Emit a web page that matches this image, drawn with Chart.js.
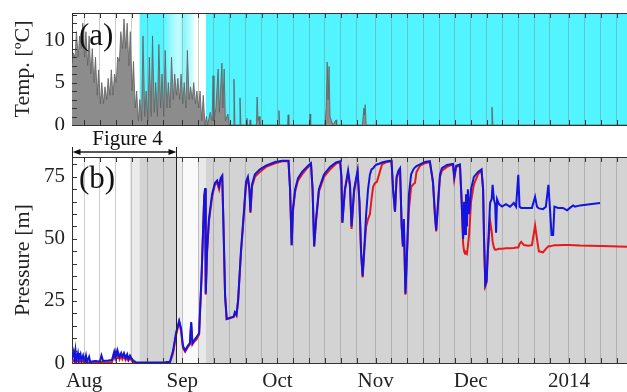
<!DOCTYPE html>
<html>
<head>
<meta charset="utf-8">
<script src="https://cdn.jsdelivr.net/npm/chart.js@4.4.1/dist/chart.umd.min.js"></script>
<style>
  html, body { margin: 0; padding: 0; background: #fff; overflow: hidden; }
  #wrap { position: relative; width: 627px; height: 392px; }
  canvas { position: absolute; left: 0; }
  #tempChart { top: 0; }
  #pressChart { top: 120px; }
</style>
</head>
<body>
<div id="wrap">
  <canvas id="tempChart" width="627" height="130"></canvas>
  <canvas id="pressChart" width="627" height="272"></canvas>
</div>
<script>
// days counted from 1 Aug 2013

const xMin = -3.8
const xMax = 171.3

const monthStarts = [0, 31, 61, 92, 122, 153]
const monthLabels = ['Aug', 'Sep', 'Oct', 'Nov', 'Dec', '2014']
const gridOffsets = [0, 5, 10, 15, 20, 25]

// (a) temperature
const tempDays = [
  -3.85, -3.4, -2.85, -2.4, -1.85, -1.4, -0.85, -0.4, 0.15, 0.6, 1.15, 1.6, 2.15, 2.6, 3.15, 3.6,
  4.15, 4.6, 5.15, 5.6, 6.15, 6.6, 7.15, 7.6, 8.15, 8.6, 9.15, 9.6, 10.15, 10.6, 11.15, 11.6,
  12.15, 12.6, 13.15, 13.6, 14.15, 14.6, 15.15, 15.6, 16.15, 16.6, 17.15, 17.6,
  18.15, 18.6, 19.15, 19.6, 20.15, 20.6, 21.15, 21.6, 22.15, 22.6, 23.15, 23.6, 24.15, 24.6,
  25.15, 25.6, 26.15, 26.6, 27.15, 27.6, 28.15, 28.6, 29.15, 29.6, 30.15, 30.6, 31.15, 31.6,
  32.15, 32.6, 33.15, 33.6, 34.15, 34.6, 35.15, 35.6, 36.15, 36.6, 37.15, 37.6, 38.15, 38.6,
  39.0, 39.8, 40.4, 40.7, 41.0, 41.6, 42.3, 42.7, 43.5, 43.8, 44.2, 44.6, 45.4, 45.8,
  47.0, 47.3, 47.6, 49.0, 49.2, 49.5, 51.2, 51.4, 51.6, 52.2, 52.4, 52.6,
  54.4, 54.6, 54.9, 55.2, 55.5, 61.3, 61.5, 61.7, 64.2, 64.4, 64.6, 71.1, 71.3, 71.5,
  76.0, 76.4, 76.7, 77.0, 77.3, 77.6, 78.5, 79.5, 79.7,
  87.8, 88.3, 88.5, 88.7, 89.0, 128.4, 128.7, 129.0, 171.5
]
const tempVals = [
  7, 8.5, 8, 11, 8, 10.5, 9, 12, 8, 11, 7, 10.5, 6, 9, 5, 8,
  3.5, 6.5, 2.5, 5, 2.5, 4.5, 3, 5.5, 3.5, 6.5, 3.5, 6, 5, 8, 7.5, 11,
  9, 12.5, 9, 12, 7, 11, 4, 7.5, 2, 4, 0.5, 3,
  0.5, 10.5, 1, 4, 0.5, 8, 1, 10.5, 1.5, 5, 1, 9.5, 2, 6,
  1, 8.8, 2, 5, 2, 8, 3, 6, 3.5, 5.5, 3, 6, 2.5, 5,
  2, 8.8, 3, 4.5, 3, 5, 2.5, 4, 2, 4, 0.5, 3.5, 0, 1,
  0, 1.5, 0.5, 5.8, 0.5, 2, 6.6, 1.5, 7.3, 2, 6.6, 0.5, 1.3, 0,
  0, 5.4, 0, 0, 3.2, 0, 0, 0.8, 0, 0, 0.6, 0,
  0, 3.3, 0.5, 1, 0, 0, 1.7, 0, 0, 1.2, 0, 0, 1.3, 0,
  0, 2, 7.4, 3, 6.9, 1, 0, 0.6, 0,
  0, 2.0, 1.2, 2.4, 0, 0, 2.1, 0, 0
]

// (b) pressure, blue and red sensors
const pDays = [
  -3.8, -3.3, -3.0, -2.7, -2.4, -1.9, -1.6, -1.1, -0.8, -0.3, 0.15, 0.6, 0.9, 1.6, 1.9, 3.5,
  5.0, 5.5, 6.0, 7.6, 8.8, 9.5, 9.8, 10.1, 10.4, 10.7, 11.2, 11.7, 12.1, 12.6, 13.1, 13.6,
  14.0, 14.5, 15.1, 15.8, 16.4, 20.8, 25.6, 27.1, 28.1, 29.0, 30.0, 30.6, 31.2, 31.9,
  32.8, 33.4, 33.8, 34.2, 34.7, 35.5, 36.3, 37.1, 37.9, 38.2, 38.4, 38.8, 39.4, 40.4,
  41.3, 42.0, 42.6, 43.1, 43.6, 44.0, 44.5, 45.0, 46.1, 47.2, 47.6, 48.1, 48.6, 49.5,
  50.5, 51.1, 51.7, 52.2, 52.5, 53.0, 53.9, 55.5, 57.4, 60.3, 62.5, 64.5, 65.0, 65.5,
  65.9, 66.6, 67.5, 68.8, 70.7, 71.6, 72.1, 72.6, 73.2, 74.1, 75.7, 77.6, 79.5, 80.8,
  81.2, 81.5, 82.3, 83.3, 83.9, 84.4, 85.2, 86.3, 86.9, 87.4, 87.9, 88.5, 89.0, 89.6,
  90.2, 90.7, 91.2, 91.8, 92.4, 93.1, 94.0, 95.6, 97.0, 97.5, 98.1, 98.6, 99.2, 99.7,
  100.2, 100.6, 100.9, 101.4, 101.9, 102.5, 103.2, 103.9, 104.4, 104.9, 106.0, 107.6, 109.1, 109.6,
  110.1, 110.7, 111.1, 111.7, 112.3, 112.9, 114.5, 116.4, 116.8, 117.4, 118.6, 119.1, 119.6, 119.9,
  120.2, 120.5, 120.8, 121.1, 121.5, 122.1, 123.0, 124.3, 125.4, 125.9, 126.2, 126.6, 127.0, 127.4,
  128.1, 128.6, 128.9, 129.3, 129.7, 130.0, 130.3, 130.9, 131.9, 133.1, 134.4, 135.6, 136.3, 137.0,
  137.4, 137.9, 138.8, 140.1, 141.3, 142.3, 142.9, 143.5, 144.8, 145.7, 146.5, 147.0, 147.5, 148.0,
  148.4, 149.6, 151.1, 152.4, 153.3, 154.3, 154.9, 156.5, 159.6, 162.8, 166.0, 171.3
]
const pBlue = [
  2, 4.5, 1.5, 5, 1, 4, 1.5, 3.5, 1, 3, 0.5, 3, 0.5, 2.5, 0.5, 0.8,
  0.6, 3, 0.8, 1, 1.2, 4.5, 2.5, 4.5, 3, 4.5, 2.5, 4, 2.5, 4, 2, 3.5,
  1.5, 3, 1.5, 0.8, 0.3, 0.2, 0.3, 0.5, 5, 12, 17, 14, 7, 5,
  7, 8, 16.5, 8, 9, 10.5, 12, 36, 67, 70.5, 28, 45, 58, 68,
  72.5, 73.5, 71, 74.5, 75.5, 55, 27, 17.7, 18.3, 18.7, 20.5, 19.5, 25, 45,
  62, 73, 75, 70, 61, 72, 76, 78, 79.5, 81, 81.5, 81.5, 70, 47.5,
  62, 70, 74.5, 77, 79.5, 80.5, 70, 47, 58, 70, 76, 79, 80.8, 81.3,
  75, 56.5, 70, 77.5, 72, 55, 70, 77.5, 65, 45, 35, 48, 60, 70,
  76, 78, 78.5, 79.5, 80, 80.3, 80.8, 81.3, 81.5, 70, 61, 75, 77.5, 78.5,
  55.5, 47, 58, 28, 45, 68, 76, 78, 78.8, 79.3, 80, 81, 81.3, 77,
  73, 60, 53.5, 65, 76, 78.5, 79.8, 80.2, 75, 79.5, 80, 66, 50, 65,
  52, 68, 55, 70, 60, 70, 75, 77, 78, 70, 50, 31.5, 33, 45,
  64.5, 66, 71.8, 66, 64, 52.5, 66, 64, 63, 64, 63, 64.5, 63, 75.8,
  63, 62.5, 62.5, 62.5, 62.5, 67, 63, 62.3, 62, 63, 71.8, 62, 51.6, 51.6,
  63, 62.5, 62.5, 61.5, 62.5, 63.5, 63, 63.5, 64, 64.5, null, null
]
const pRed = [
  0.5, 1, 0.5, 1, 0.3, 1, 0.3, 1, 0.3, 0.8, 0.2, 0.5, 0.2, 0.3, 0.2, 0.2,
  0.1, 0.5, 0.2, 0.3, 0.4, 3, 2, 3.5, 2, 3.5, 1.5, 3, 1.5, 3, 1.2, 2.5,
  1, 2, 0.8, 0.3, 0, 0, 0, 0.2, 4, 11, 16.5, 13, 6, 4.5,
  6.5, 7.5, 16, 7.5, 8.5, 9.5, 11.5, 35, 66, 70, 27.5, 44, 57, 67,
  72, 72.5, 70, 74, 75, 55, 27, 17.7, 18, 18.5, 20, 19, 25, 44,
  61, 72, 74, 69, 60.5, 71, 75, 77, 79, 80.5, 81.3, 81.3, 70, 47.5,
  61, 69, 73.5, 76, 79, 80, 70, 47, 57, 69, 75, 78, 80.3, 81,
  75, 56.5, 69.5, 76.5, 71, 54, 69, 77, 64, 44, 34.5, 47, 55, 58,
  60, 66, 71, 72.5, 73, 76, 80, 81, 81.3, 70, 61, 74, 77, 78,
  55, 47, 56, 27.5, 44, 62, 71, 72, 72.5, 77, 79.5, 80.5, 81, 77,
  72.5, 59.5, 53, 64, 75, 77.5, 79, 80, 74, 79, 79.5, 66, 48, 45,
  44, 44.5, 44, 47, 52, 65, 72, 76, 77.5, 70, 50, 31, 32.5, 45,
  57.5, 53, 49, 46.5, 45.6, 45.6, 45.8, 46, 46, 46.2, 46.2, 46.3, 46.5, 46.5,
  48, 48.8, 47.5, 47.2, 47.5, 55.4, 50, 45, 44.6, 46, 47, 47, 47.2, 47.3,
  47.4, 47.4, 47.5, 47.5, 47.5, 47.4, 47.4, 47.3, 47.2, 47.1, 47, 46.8
]

// shading: days and strength
const coldDays = [-3.8, 17.3, 17.8, 25, 28, 30, 31.5, 33.5, 35.5, 38.3, 38.6, 171.3]
const coldLevel = [0, 0, 1, 1, 0.5, 0.35, 0.7, 0.4, 0, 0, 1, 1]
const greyDays = [-3.8, 14.3, 14.6, 17.4, 17.8, 29.1, 29.4, 31.0, 31.4, 35.8, 36.1, 38.3, 38.6, 171.3]
const greyLevel = [0, 0, 0.45, 0.45, 1, 1, 0.45, 0.45, 0.12, 0.12, 0.5, 0.5, 1, 1]

const figure4End = 29

const FONT = '"Liberation Serif", "Times New Roman", serif'
const INK = '#222'

const xTicks = monthStarts
  .flatMap(m => gridOffsets.map(o => m + o))
  .filter(v => v >= xMin && v <= xMax)

function toPoints(days, vals) {
  return days.map((d, i) => ({ x: d, y: vals[i] }))
}

function shade(chart, days, levels, rgb) {
  const { ctx, chartArea: a, scales: { x } } = chart
  const g = ctx.createLinearGradient(a.left, 0, a.right, 0)
  days.forEach((d, i) => {
    let f = (x.getPixelForValue(d) - a.left) / (a.right - a.left)
    f = Math.min(1, Math.max(0, f))
    g.addColorStop(f, 'rgba(' + rgb + ',' + levels[i] + ')')
  })
  ctx.save()
  ctx.fillStyle = g
  ctx.fillRect(a.left, a.top, a.right - a.left, a.bottom - a.top)
  ctx.restore()
}

function innerTicks(chart) {
  const { ctx, chartArea: a, scales: { x, y } } = chart
  ctx.save()
  ctx.strokeStyle = '#333'
  ctx.lineWidth = 1
  ctx.beginPath()
  x.ticks.forEach(t => {
    const px = Math.round(x.getPixelForValue(t.value)) + 0.5
    ctx.moveTo(px, a.top); ctx.lineTo(px, a.top + 5)
    ctx.moveTo(px, a.bottom); ctx.lineTo(px, a.bottom - 5)
  })
  y.ticks.forEach(t => {
    const py = Math.round(y.getPixelForValue(t.value)) + 0.5
    ctx.moveTo(a.left, py); ctx.lineTo(a.left + 5, py)
  })
  ctx.moveTo(a.left, a.top + 0.5); ctx.lineTo(a.right, a.top + 0.5)
  ctx.stroke()
  ctx.restore()
}

function panelLabel(chart, text, dy) {
  const { ctx, chartArea: a } = chart
  ctx.save()
  ctx.font = '31px ' + FONT
  ctx.fillStyle = '#111'
  ctx.textBaseline = 'alphabetic'
  ctx.fillText(text, a.left + 7, a.top + dy)
  ctx.restore()
}

function xScale(showLabels, height) {
  return {
    type: 'linear',
    min: xMin,
    max: xMax,
    afterBuildTicks: s => { s.ticks = xTicks.map(v => ({ value: v })) },
    afterFit: s => { s.height = height; s.paddingLeft = 0; s.paddingRight = 0 },
    grid: { color: 'rgba(120,120,120,0.38)', drawTicks: false, lineWidth: 1 },
    border: { display: true, color: '#333', width: 1 },
    ticks: {
      display: showLabels,
      autoSkip: false,
      maxRotation: 0,
      padding: 6,
      color: INK,
      font: { family: FONT, size: 21 },
      callback: v => {
        const i = monthStarts.indexOf(v)
        return i >= 0 ? monthLabels[i] : ''
      }
    }
  }
}

function yScale(max, step, major, title) {
  return {
    min: 0,
    max: max,
    afterFit: s => { s.width = 72; s.paddingTop = 0; s.paddingBottom = 0 },
    grid: { display: false, drawTicks: false },
    border: { display: true, color: '#333', width: 1 },
    title: { display: true, text: title, color: INK, font: { family: FONT, size: 22 }, padding: { top: 10, bottom: 0 } },
    ticks: {
      stepSize: step,
      autoSkip: false,
      includeBounds: false,
      padding: 7,
      color: INK,
      font: { family: FONT, size: 21 },
      callback: v => (Math.round(v) % major === 0 ? String(Math.round(v)) : '')
    }
  }
}

new Chart(document.getElementById('tempChart'), {
  type: 'line',
  data: {
    datasets: [{
      data: toPoints(tempDays, tempVals),
      fill: 'origin',
      backgroundColor: '#8c8c8c',
      borderColor: '#5e5e5e',
      borderWidth: 0.8,
      pointRadius: 0,
      tension: 0
    }]
  },
  options: {
    responsive: false,
    animation: false,
    events: [],
    layout: { padding: { top: 13, left: 0, right: 0, bottom: 0 } },
    plugins: { legend: { display: false }, tooltip: { enabled: false } },
    scales: {
      x: xScale(false, 5),
      y: yScale(13.2, 1, 5, 'Temp. [ºC]')
    }
  },
  plugins: [{
    id: 'decor',
    beforeDraw: c => shade(c, coldDays, coldLevel, '82,245,255'),
    afterDatasetsDraw: c => { innerTicks(c); panelLabel(c, '(a)', 32) }
  }]
})

new Chart(document.getElementById('pressChart'), {
  type: 'line',
  data: {
    datasets: [
      {
        label: 'blue',
        data: toPoints(pDays, pBlue),
        borderColor: '#1414e0',
        borderWidth: 2,
        pointRadius: 0,
        tension: 0,
        spanGaps: false,
        fill: false
      },
      {
        label: 'red',
        data: toPoints(pDays, pRed),
        borderColor: '#e61a1a',
        borderWidth: 2,
        pointRadius: 0,
        tension: 0,
        fill: false
      }
    ]
  },
  options: {
    responsive: false,
    animation: false,
    events: [],
    layout: { padding: { top: 37, left: 0, right: 0, bottom: 0 } },
    plugins: { legend: { display: false }, tooltip: { enabled: false } },
    scales: {
      x: xScale(true, 29),
      y: yScale(83, 5, 25, 'Pressure [m]')
    }
  },
  plugins: [{
    id: 'decor',
    beforeDraw: c => shade(c, greyDays, greyLevel, '211,211,211'),
    afterDatasetsDraw: c => {
      innerTicks(c)
      panelLabel(c, '(b)', 31)
      // Figure 4 window
      const { ctx, chartArea: a, scales: { x } } = c
      const xe = Math.round(x.getPixelForValue(figure4End)) + 0.5
      const xl = a.left + 0.5
      const ya = a.top - 5
      ctx.save()
      ctx.strokeStyle = '#222'
      ctx.fillStyle = '#111'
      ctx.lineWidth = 1
      ctx.beginPath()
      ctx.moveTo(xe, a.top - 10); ctx.lineTo(xe, a.bottom)
      ctx.moveTo(xl, a.top - 10); ctx.lineTo(xl, a.top)
      ctx.stroke()
      ctx.lineWidth = 1.5
      ctx.beginPath()
      ctx.moveTo(xl + 4, ya); ctx.lineTo(xe - 4, ya)
      ctx.stroke()
      ctx.beginPath()
      ctx.moveTo(xl, ya); ctx.lineTo(xl + 8, ya - 3); ctx.lineTo(xl + 8, ya + 3); ctx.closePath()
      ctx.moveTo(xe, ya); ctx.lineTo(xe - 8, ya - 3); ctx.lineTo(xe - 8, ya + 3); ctx.closePath()
      ctx.fill()
      ctx.font = '21px ' + FONT
      ctx.textAlign = 'center'
      ctx.textBaseline = 'alphabetic'
      ctx.fillText('Figure 4', (xl + xe) / 2 + 3, a.top - 12)
      ctx.restore()
    }
  }]
})
</script>
</body>
</html>
